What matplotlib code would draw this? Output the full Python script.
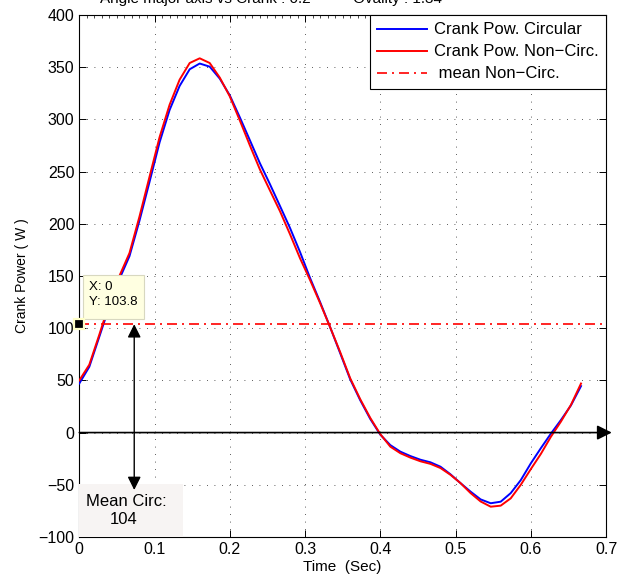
import matplotlib
matplotlib.use("Agg")
import matplotlib.pyplot as plt
from matplotlib.patches import Rectangle
from matplotlib.ticker import MultipleLocator, FuncFormatter

plt.rcParams['font.family'] = ['Liberation Sans', 'DejaVu Sans']

# Sampled crank power over one pedal revolution
time_s = [0.0, 0.0133, 0.0267, 0.04, 0.0533, 0.0667, 0.08, 0.0933, 0.1067, 0.12,
          0.1333, 0.1467, 0.16, 0.1733, 0.1867, 0.2, 0.2133, 0.2267, 0.24, 0.2533,
          0.2667, 0.28, 0.2933, 0.3067, 0.32, 0.3333, 0.3467, 0.36, 0.3733, 0.3867,
          0.4, 0.4133, 0.4267, 0.44, 0.4533, 0.4667, 0.48, 0.4933, 0.5067, 0.52,
          0.5333, 0.5467, 0.56, 0.5733, 0.5867, 0.6, 0.6133, 0.6267, 0.64, 0.6533,
          0.6667]

power_circ = [47, 63, 92, 121, 147, 169, 203, 240, 278, 309,
              332, 348, 353.5, 350.5, 339, 323, 302, 280, 258, 238,
              217, 196, 173, 148, 125, 101, 76, 51, 31, 13,
              -2, -12, -18.3, -22.5, -26, -28.5, -32.7, -40, -48.5, -56.6,
              -64, -67.7, -66.2, -58, -45.5, -29.5, -15, -1, 12, 26,
              44.5]

power_noncirc = [50, 65, 94, 124, 150, 172, 207, 245, 283, 314,
                 338, 354, 358.5, 354, 340, 322, 299, 275, 252, 232,
                 212, 190, 167, 146, 124, 101, 77, 52, 32, 14,
                 -1.5, -13.5, -19.8, -24, -27.5, -30, -34, -40.5, -48.5, -58,
                 -66, -71, -70, -63, -50, -35, -20.5, -4, 10.5, 26.5,
                 47]

mean_noncirc = 103.8
mean_circ = 104

legend_labels = ['Crank Pow. Circular', 'Crank Pow. Non\u2212Circ.', ' mean Non\u2212Circ.']
title_text = 'Angle major axis vs Crank : 0.2          Ovality : 1.34'

fig = plt.figure(figsize=(6.19, 5.85), dpi=100)
ax = fig.add_axes([0.1281, 0.0821, 0.851, 0.8923])

ax.plot(time_s, power_circ, color='#0000ff', lw=1.4, label=legend_labels[0], zorder=3)
ax.plot(time_s, power_noncirc, color='#ff0000', lw=1.4, label=legend_labels[1], zorder=4)
ax.axhline(mean_noncirc, color='#ff0000', lw=1.2, linestyle=(0, (6, 3, 1.2, 3)),
           label=legend_labels[2], zorder=4)

ax.set_xlim(0, 0.7)
ax.set_ylim(-100, 400)
ax.xaxis.set_major_locator(MultipleLocator(0.1))
ax.yaxis.set_major_locator(MultipleLocator(50))

def fmt_x(v, pos):
    return '%g' % round(v, 3)

def fmt_y(v, pos):
    return ('%g' % round(v, 3)).replace('-', '\u2212')

ax.xaxis.set_major_formatter(FuncFormatter(fmt_x))
ax.yaxis.set_major_formatter(FuncFormatter(fmt_y))

ax.tick_params(which='major', direction='in', length=5, width=0.7, top=True, right=True,
               labelsize=11.5, pad=3.5, colors='black')
ax.xaxis.set_minor_locator(MultipleLocator(0.01))
ax.tick_params(which='minor', axis='x', direction='in', length=2, width=0.5,
               top=True, bottom=False)
ax.tick_params(which='minor', axis='y', left=False, right=False)

ax.grid(True, which='major', color='0.15', linestyle=(0, (1, 8)), lw=0.6)
for sp in ax.spines.values():
    sp.set_linewidth(0.8)
    sp.set_color('black')

ax.set_xlabel('Time  (Sec)', fontsize=11, labelpad=2)
ax.set_ylabel('Crank Power ( W )', fontsize=10, labelpad=7)

fig.text(100 / 619, 0.995, title_text, fontsize=11, ha='left', va='baseline')

leg = ax.legend(loc='upper right', borderaxespad=0, fancybox=False, framealpha=1,
                edgecolor='black', fontsize=12, handlelength=3.0, handletextpad=0.4,
                labelspacing=0.42, borderpad=0.45)
leg.get_frame().set_linewidth(0.8)
leg.set_zorder(10)

# Horizontal zero-line arrow
ax.annotate('', xy=(0.7076, 0), xytext=(0, 0), xycoords='data',
            arrowprops=dict(arrowstyle='-|>', color='black', lw=1.2,
                            mutation_scale=22, shrinkA=0, shrinkB=0),
            annotation_clip=False, zorder=6)

# Double-headed arrow between the mean line and the text box
ax.annotate('', xy=(0.073, mean_noncirc), xytext=(0.073, -55), xycoords='data',
            arrowprops=dict(arrowstyle='<|-|>', color='black', lw=1.0,
                            mutation_scale=20, shrinkA=0, shrinkB=0),
            zorder=7)

# Text box with the circular mean
ax.add_patch(Rectangle((0.0, -100), 0.1377, 50.5, facecolor='#f7f4f3',
                       edgecolor='none', zorder=5))
ax.text(0.063, -66, 'Mean Circ:', fontsize=12, ha='center', va='center', zorder=8)
ax.text(0.059, -83, '%d' % mean_circ, fontsize=12, ha='center', va='center', zorder=8)

# Data tip on the mean line
ax.add_patch(Rectangle((0.0053, 108.5), 0.081, 42.5, facecolor='#ffffe1',
                       edgecolor='#d8d8c0', lw=0.8, zorder=8))
ax.text(0.013, 139, 'X: 0', fontsize=9.5, ha='left', va='center', zorder=9)
ax.text(0.013, 125, 'Y: %.1f' % mean_noncirc, fontsize=9.5, ha='left', va='center', zorder=9)
ax.plot([0], [mean_noncirc], marker='s', ms=7, mfc='black', mec='#ffffc8', mew=1.6,
        clip_on=False, zorder=9)

fig.savefig('out.png', dpi=100)
